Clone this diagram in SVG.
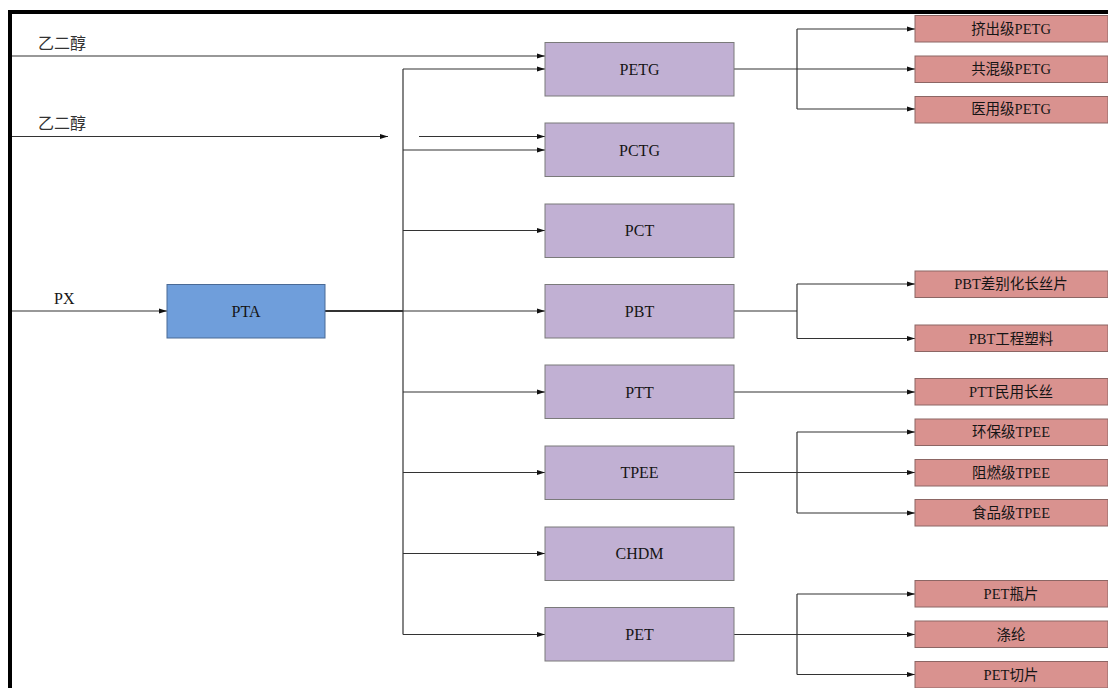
<svg xmlns="http://www.w3.org/2000/svg" width="1108" height="688" viewBox="0 0 1108 688">
<style>
.bg{fill:#ffffff}
.frame{fill:none;stroke:#000;stroke-width:4}
.mid rect{fill:#c1b0d3;stroke:#7a7a7a;stroke-width:1}
.src rect{fill:#6f9edb;stroke:#4a6a95;stroke-width:1}
.out rect{fill:#d9928f;stroke:#8c6664;stroke-width:1}
text{font-family:"Liberation Serif","Noto Sans CJK SC",serif;fill:#151515;text-anchor:middle;dominant-baseline:central}
.mid text,.src text{font-size:16px}
.out text{font-size:14.5px}
.lbl{font-family:"Noto Sans CJK SC","Liberation Sans",sans-serif;font-size:16px;text-anchor:start;fill:#333}
.lblp{font-family:"Liberation Serif",serif;font-size:16px;text-anchor:start}
#connectors path{fill:none;stroke:#333;stroke-width:1.2}
</style>
<defs>
<marker id="ah" markerWidth="8" markerHeight="6" refX="8" refY="3" orient="auto" markerUnits="userSpaceOnUse">
<path d="M0,0.5 L8,3 L0,5.5 Z" fill="#111"/>
</marker>
</defs>
<rect class="bg" x="0" y="0" width="1108" height="688"/>
<path class="frame" d="M10,688 V12 H1108"/>

<g id="labels">
<text class="lbl" x="38" y="42">乙二醇</text>
<text class="lbl" x="38" y="122">乙二醇</text>
<text class="lblp" x="54" y="298">PX</text>
</g>

<g id="connectors">
<path d="M12,56 H545" marker-end="url(#ah)"/>
<path d="M12,136.5 H388" marker-end="url(#ah)"/>
<path d="M419,136.5 H545" marker-end="url(#ah)"/>
<path d="M12,311 H167" marker-end="url(#ah)"/>
<path d="M325,311 H403" style="stroke-width:2"/>
<path d="M403,69 V634.5"/>
<path d="M403,69 H545" marker-end="url(#ah)"/>
<path d="M403,150 H545" marker-end="url(#ah)"/>
<path d="M403,230.5 H545" marker-end="url(#ah)"/>
<path d="M403,311 H545" marker-end="url(#ah)"/>
<path d="M403,392 H545" marker-end="url(#ah)"/>
<path d="M403,472.5 H545" marker-end="url(#ah)"/>
<path d="M403,553.5 H545" marker-end="url(#ah)"/>
<path d="M403,634.5 H545" marker-end="url(#ah)"/>
<path d="M734,69 H797"/>
<path d="M797,29 V109"/>
<path d="M797,29 H915" marker-end="url(#ah)"/>
<path d="M797,69 H915" marker-end="url(#ah)"/>
<path d="M797,109 H915" marker-end="url(#ah)"/>
<path d="M734,311 H797"/>
<path d="M797,284 V338.5"/>
<path d="M797,284 H915" marker-end="url(#ah)"/>
<path d="M797,338.5 H915" marker-end="url(#ah)"/>
<path d="M734,392 H915" marker-end="url(#ah)"/>
<path d="M734,472.5 H797"/>
<path d="M797,432 V513"/>
<path d="M797,432 H915" marker-end="url(#ah)"/>
<path d="M797,472.5 H915" marker-end="url(#ah)"/>
<path d="M797,513 H915" marker-end="url(#ah)"/>
<path d="M734,634.5 H797"/>
<path d="M797,594 V674.5"/>
<path d="M797,594 H915" marker-end="url(#ah)"/>
<path d="M797,634.5 H915" marker-end="url(#ah)"/>
<path d="M797,674.5 H915" marker-end="url(#ah)"/>
</g>

<g id="PTA" class="src"><rect x="167" y="284.5" width="158" height="53.5"/><text x="246" y="311">PTA</text></g>

<g id="PETG" class="mid"><rect x="545" y="42.5" width="189" height="53.5"/><text x="639.5" y="69">PETG</text></g>
<g id="PCTG" class="mid"><rect x="545" y="123" width="189" height="53.5"/><text x="639.5" y="150">PCTG</text></g>
<g id="PCT" class="mid"><rect x="545" y="204" width="189" height="53.5"/><text x="639.5" y="230.5">PCT</text></g>
<g id="PBT" class="mid"><rect x="545" y="284.5" width="189" height="53.5"/><text x="639.5" y="311">PBT</text></g>
<g id="PTT" class="mid"><rect x="545" y="365" width="189" height="53.5"/><text x="639.5" y="392">PTT</text></g>
<g id="TPEE" class="mid"><rect x="545" y="446" width="189" height="53.5"/><text x="639.5" y="472.5">TPEE</text></g>
<g id="CHDM" class="mid"><rect x="545" y="527" width="189" height="53.5"/><text x="639.5" y="553.5">CHDM</text></g>
<g id="PET" class="mid"><rect x="545" y="607.5" width="189" height="53.5"/><text x="639.5" y="634.5">PET</text></g>

<g id="out1" class="out"><rect x="915" y="15.5" width="193" height="26.5"/><text x="1011" y="29">挤出级PETG</text></g>
<g id="out2" class="out"><rect x="915" y="56" width="193" height="26.5"/><text x="1011" y="69">共混级PETG</text></g>
<g id="out3" class="out"><rect x="915" y="96.5" width="193" height="26.5"/><text x="1011" y="109">医用级PETG</text></g>
<g id="out4" class="out"><rect x="915" y="271" width="193" height="26.5"/><text x="1011" y="284">PBT差别化长丝片</text></g>
<g id="out5" class="out"><rect x="915" y="325" width="193" height="26.5"/><text x="1011" y="338.5">PBT工程塑料</text></g>
<g id="out6" class="out"><rect x="915" y="378.5" width="193" height="26.5"/><text x="1011" y="392">PTT民用长丝</text></g>
<g id="out7" class="out"><rect x="915" y="419" width="193" height="26.5"/><text x="1011" y="432">环保级TPEE</text></g>
<g id="out8" class="out"><rect x="915" y="459.5" width="193" height="26.5"/><text x="1011" y="472.5">阻燃级TPEE</text></g>
<g id="out9" class="out"><rect x="915" y="499.5" width="193" height="26.5"/><text x="1011" y="513">食品级TPEE</text></g>
<g id="out10" class="out"><rect x="915" y="580.5" width="193" height="26.5"/><text x="1011" y="594">PET瓶片</text></g>
<g id="out11" class="out"><rect x="915" y="621" width="193" height="26.5"/><text x="1011" y="634.5">涤纶</text></g>
<g id="out12" class="out"><rect x="915" y="661.5" width="193" height="26.5"/><text x="1011" y="674.5">PET切片</text></g>
</svg>
